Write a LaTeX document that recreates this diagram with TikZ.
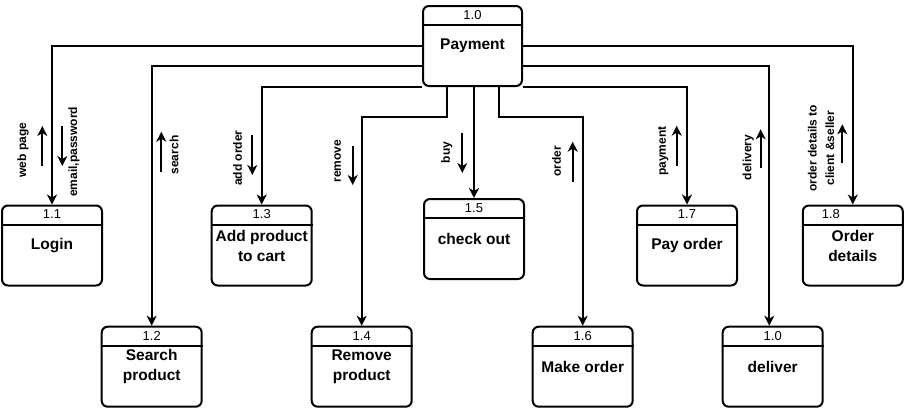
\documentclass[tikz,border=0pt]{standalone}
\usepackage{fontspec}
\setmainfont{Liberation Sans}
\usetikzlibrary{positioning,arrows.meta,calc}

\begin{document}
\begin{tikzpicture}[x=1pt, y=-1pt,
  proc/.style={draw, line width=2pt, rounded corners=6pt, minimum width=100pt, minimum height=80pt, inner sep=0pt, align=center, font=\bfseries\fontsize{15.5}{20}\selectfont},
  hdr/.style={draw, line width=2pt},
  num/.style={inner sep=0pt, font=\fontsize{13}{15}\selectfont},
  lbl/.style={rotate=90, align=center, inner sep=0pt, font=\bfseries\fontsize{12}{17.5}\selectfont},
  flow/.style={draw, line width=2pt, -{Stealth[length=10pt, width=10pt, inset=3pt]}}
]
\useasboundingbox (0,0) rectangle (904,408);

% processes
\node[proc, minimum width=99pt] (pay) at (472.5,46) {Payment};
\node[proc] (lgn) at (52,245.5) {Login};
\node[proc] (srch) at (151.7,366.7) {Search\\product};
\node[proc] (addc) at (261.7,245.5) {Add product\\to cart};
\node[proc] (rmv) at (361.7,366.7) {Remove\\product};
\node[proc] (chk) at (474,239) {check out};
\node[proc] (mko) at (582.7,366.7) {Make order};
\node[proc] (payo) at (687,245.5) {Pay order};
\node[proc] (dlv) at (772.7,366.7) {deliver};
\node[proc] (odt) at (852.8,245.5) {Order\\details};

% header lines
\draw[hdr] ($(pay.north west)+(0,20)$) -- ($(pay.north east)+(0,20)$);
\draw[hdr] ($(lgn.north west)+(0,20)$) -- ($(lgn.north east)+(0,20)$);
\draw[hdr] ($(srch.north west)+(0,20)$) -- ($(srch.north east)+(0,20)$);
\draw[hdr] ($(addc.north west)+(0,20)$) -- ($(addc.north east)+(0,20)$);
\draw[hdr] ($(rmv.north west)+(0,20)$) -- ($(rmv.north east)+(0,20)$);
\draw[hdr] ($(chk.north west)+(0,20)$) -- ($(chk.north east)+(0,20)$);
\draw[hdr] ($(mko.north west)+(0,20)$) -- ($(mko.north east)+(0,20)$);
\draw[hdr] ($(payo.north west)+(0,20)$) -- ($(payo.north east)+(0,20)$);
\draw[hdr] ($(dlv.north west)+(0,20)$) -- ($(dlv.north east)+(0,20)$);
\draw[hdr] ($(odt.north west)+(0,20)$) -- ($(odt.north east)+(0,20)$);

% numbers
\node[num] (npay) at ($(pay.north)+(0,10)$) {1.0};
\node[num] (nlgn) at ($(lgn.north)+(0,10)$) {1.1};
\node[num] (nsrch) at ($(srch.north)+(0,10)$) {1.2};
\node[num] (naddc) at ($(addc.north)+(0,10)$) {1.3};
\node[num] (nrmv) at ($(rmv.north)+(0,10)$) {1.4};
\node[num] (nchk) at ($(chk.north)+(0,10)$) {1.5};
\node[num] (nmko) at ($(mko.north)+(0,10)$) {1.6};
\node[num] (npayo) at ($(payo.north)+(0,10)$) {1.7};
\node[num] (ndlv) at ($(dlv.north)+(0,10)$) {1.0};
\node[num] (nodt) at ($(odt.north)+(-22,10)$) {1.8};

% flows
\draw[flow] (pay.west) -| (lgn.north);
\draw[flow] ($(pay.west)+(0,20)$) -| (srch.north);
\draw[flow] (pay.south west) -| (addc.north);
\draw[flow] ($(pay.south west)+(25,0)$) -- ++(0,30) -| (rmv.north);
\draw[flow] (pay.south -| chk.north) -- (chk.north);
\draw[flow] ($(pay.south east)+(-24,0)$) -- ++(0,30) -| (mko.north);
\draw[flow] (pay.south east) -| (payo.north);
\draw[flow] ($(pay.east)+(0,20)$) -| ($(dlv.north)+(-3.4,0)$);
\draw[flow] (pay.east) -| (odt.north);

% data labels
\node[lbl] (lwp) at (23,150) {web page};
\draw[flow] ($(lwp)+(19.3,16)$) -- ++(0,-40);
\node[lbl] (lem) at (74,151.7) {email,password};
\draw[flow] ($(lem)+(-11.7,-25.7)$) -- ++(0,40);
\node[lbl] (lsr) at (174,155) {search};
\draw[flow] ($(lsr)+(-12.7,16.7)$) -- ++(0,-40);
\node[lbl] (lad) at (237.7,158) {add order};
\draw[flow] ($(lad)+(14.6,-23)$) -- ++(0,40);
\node[lbl] (lrm) at (337.7,161) {remove};
\draw[flow] ($(lrm)+(15,-15)$) -- ++(0,39);
\node[lbl] (lby) at (446.7,152.5) {buy};
\draw[flow] ($(lby)+(15.6,-19.5)$) -- ++(0,40);
\node[lbl] (lor) at (556.7,161) {order};
\draw[flow] ($(lor)+(16,20.7)$) -- ++(0,-40);
\node[lbl] (lpm) at (663.3,151) {payment};
\draw[flow] ($(lpm)+(13.4,14.7)$) -- ++(0,-40);
\node[lbl] (ldv) at (748.3,157.5) {delivery};
\draw[flow] ($(ldv)+(12.4,10.8)$) -- ++(0,-39);
\node[lbl] (lod) at (821,148.3) {order details to\\client \&seller};
\draw[flow] ($(lod)+(21.3,15)$) -- ++(0,-39);

\end{tikzpicture}
\end{document}
